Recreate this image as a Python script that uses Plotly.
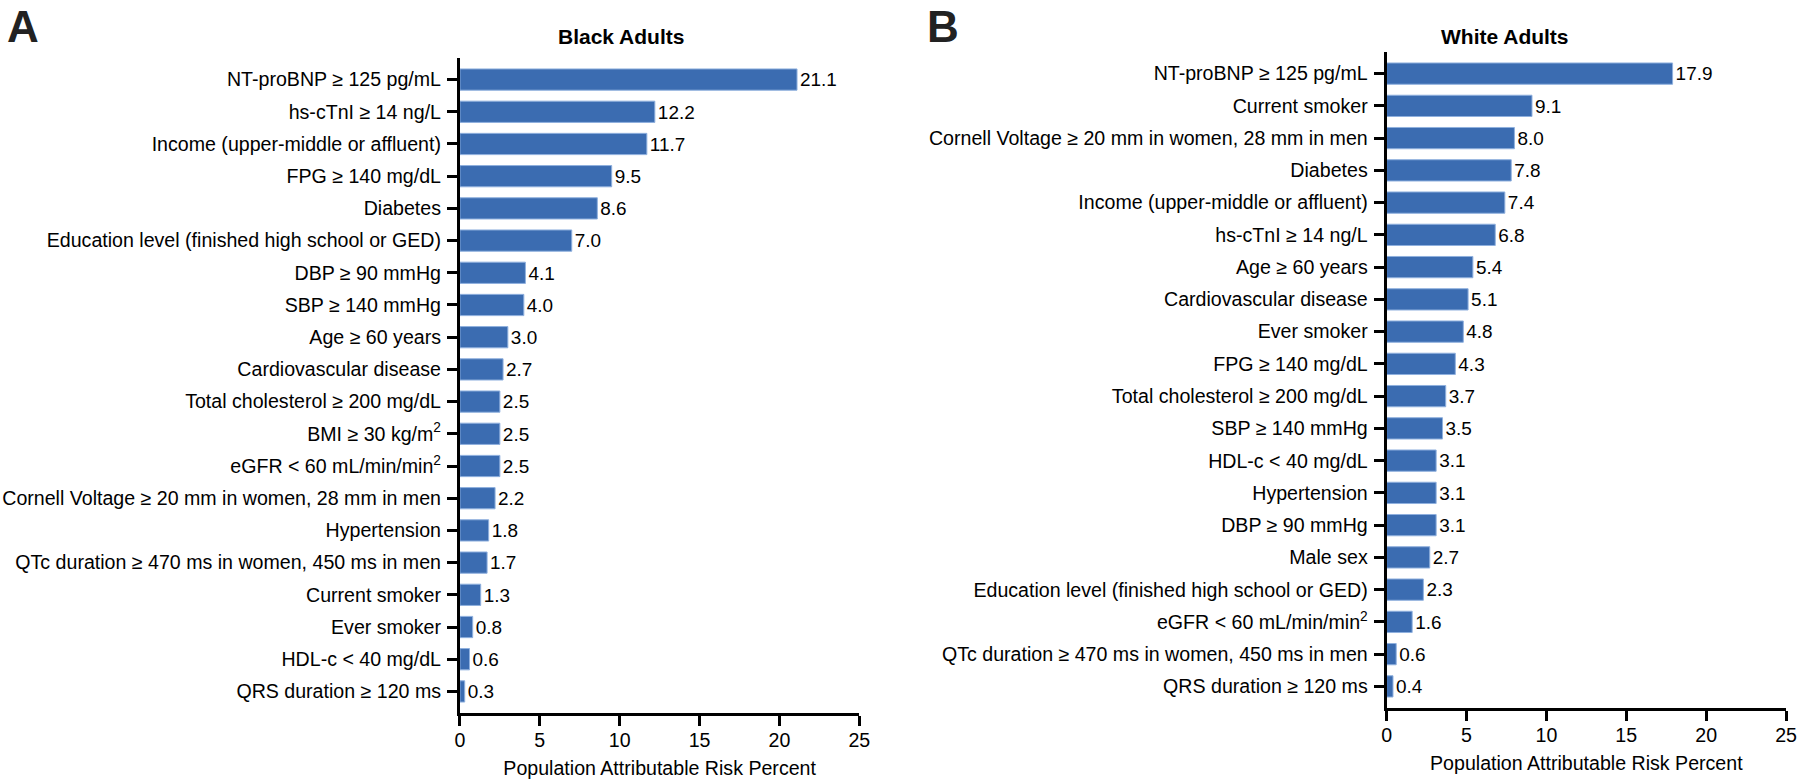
import plotly.graph_objects as go

black_labels = [
    "NT-proBNP ≥ 125 pg/mL",
    "hs-cTnI ≥ 14 ng/L",
    "Income (upper-middle or affluent)",
    "FPG ≥ 140 mg/dL",
    "Diabetes",
    "Education level (finished high school or GED)",
    "DBP ≥ 90 mmHg",
    "SBP ≥ 140 mmHg",
    "Age ≥ 60 years",
    "Cardiovascular disease",
    "Total cholesterol ≥ 200 mg/dL",
    "BMI ≥ 30 kg/m<sup>2</sup>",
    "eGFR &lt; 60 mL/min/min<sup>2</sup>",
    "Cornell Voltage ≥ 20 mm in women, 28 mm in men",
    "Hypertension",
    "QTc duration ≥ 470 ms in women, 450 ms in men",
    "Current smoker",
    "Ever smoker",
    "HDL-c &lt; 40 mg/dL",
    "QRS duration ≥ 120 ms",
]
black_values = [21.1, 12.2, 11.7, 9.5, 8.6, 7.0, 4.1, 4.0, 3.0, 2.7,
                2.5, 2.5, 2.5, 2.2, 1.8, 1.7, 1.3, 0.8, 0.6, 0.3]

white_labels = [
    "NT-proBNP ≥ 125 pg/mL",
    "Current smoker",
    "Cornell Voltage ≥ 20 mm in women, 28 mm in men",
    "Diabetes",
    "Income (upper-middle or affluent)",
    "hs-cTnI ≥ 14 ng/L",
    "Age ≥ 60 years",
    "Cardiovascular disease",
    "Ever smoker",
    "FPG ≥ 140 mg/dL",
    "Total cholesterol ≥ 200 mg/dL",
    "SBP ≥ 140 mmHg",
    "HDL-c &lt; 40 mg/dL",
    "Hypertension",
    "DBP ≥ 90 mmHg",
    "Male sex",
    "Education level (finished high school or GED)",
    "eGFR &lt; 60 mL/min/min<sup>2</sup>",
    "QTc duration ≥ 470 ms in women, 450 ms in men",
    "QRS duration ≥ 120 ms",
]
white_values = [17.9, 9.1, 8.0, 7.8, 7.4, 6.8, 5.4, 5.1, 4.8, 4.3,
                3.7, 3.5, 3.1, 3.1, 3.1, 2.7, 2.3, 1.6, 0.6, 0.4]

x_ticks = [0, 5, 10, 15, 20, 25]
x_title = "Population Attributable Risk Percent"

FONT = "Arial, Liberation Sans, Helvetica, sans-serif"
BAR = "#3b6cb1"
EDGE = "#8fb0de"
W, H = 1800, 782
FS = 19.6

fig = go.Figure()
for vals, labs, xa, ya in [(black_values, black_labels, "x", "y"),
                           (white_values, white_labels, "x2", "y2")]:
    fig.add_trace(go.Bar(
        x=vals, y=labs, orientation="h", xaxis=xa, yaxis=ya,
        marker=dict(color=BAR, line=dict(color=EDGE, width=1)),
        width=0.66,
        text=[f"{v:.1f}" for v in vals], textposition="outside",
        textfont=dict(size=FS, color="black", family=FONT),
        cliponaxis=False, showlegend=False, hoverinfo="x+y",
    ))

def px_x(p):
    return p / W

def px_y(p):
    return 1 - p / H

xaxis_common = dict(
    range=[0, 25], tickvals=x_ticks, ticks="outside", ticklen=10, tickwidth=3,
    tickcolor="black", showline=True, linewidth=3, linecolor="black",
    showgrid=False, zeroline=False, fixedrange=True, ticklabelstandoff=-3,
    tickfont=dict(size=FS, color="black", family=FONT),
    title=dict(text=x_title, font=dict(size=FS, color="black", family=FONT), standoff=12),
)
yaxis_common = dict(
    type="category", range=[19.67, -0.67], ticks="outside", ticklen=10, tickwidth=3,
    tickcolor="black", showline=True, linewidth=3, linecolor="black",
    showgrid=False, zeroline=False, fixedrange=True, ticklabelstandoff=2,
    tickfont=dict(size=FS, color="black", family=FONT),
)

fig.update_layout(
    width=W, height=H, margin=dict(l=0, r=0, t=0, b=0),
    paper_bgcolor="white", plot_bgcolor="white",
    font=dict(family=FONT, color="black"),
    xaxis=dict(domain=[px_x(459), px_x(862)], anchor="y", **xaxis_common),
    yaxis=dict(domain=[px_y(713), px_y(58)], anchor="x", **yaxis_common),
    xaxis2=dict(domain=[px_x(1394), px_x(1797)], anchor="y2", **xaxis_common),
    yaxis2=dict(domain=[px_y(708), px_y(52)], anchor="x2", **yaxis_common),
    annotations=[
        dict(text="<b>A</b>", x=px_x(0), y=1, xref="paper", yref="paper",
             xanchor="left", yanchor="top", showarrow=False,
             font=dict(size=44, color="#222222", family=FONT)),
        dict(text="<b>B</b>", x=px_x(928), y=1, xref="paper", yref="paper",
             xanchor="left", yanchor="top", showarrow=False,
             font=dict(size=44, color="#222222", family=FONT)),
        dict(text="<b>Black Adults</b>", x=px_x(622), y=px_y(36), xref="paper", yref="paper",
             xanchor="center", yanchor="middle", showarrow=False,
             font=dict(size=21, color="black", family=FONT)),
        dict(text="<b>White Adults</b>", x=px_x(1513), y=px_y(36), xref="paper", yref="paper",
             xanchor="center", yanchor="middle", showarrow=False,
             font=dict(size=21, color="black", family=FONT)),
    ],
)

fig.write_html("out.html", config={"displayModeBar": False},
               post_script="document.body.style.margin='0';document.body.style.overflow='hidden';")
